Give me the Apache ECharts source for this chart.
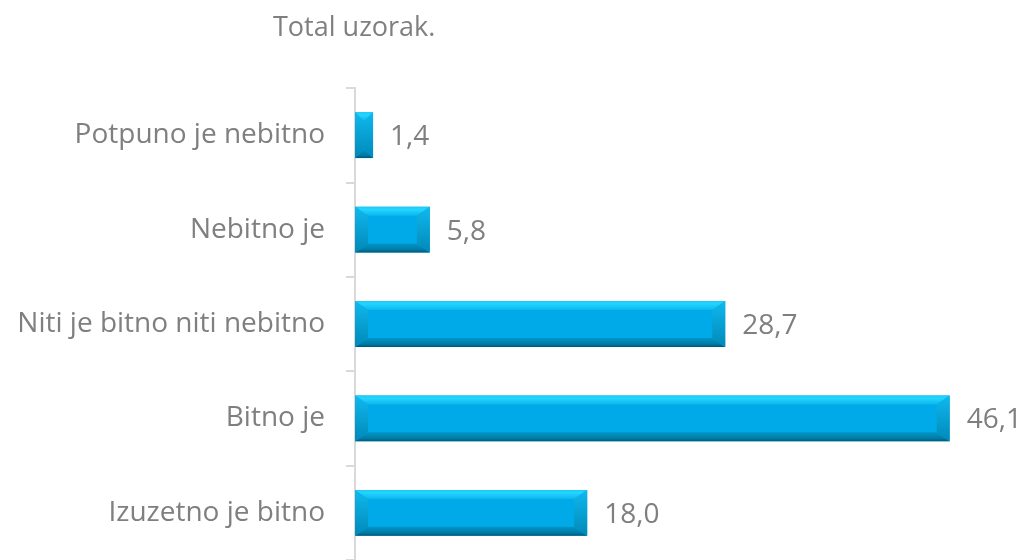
<!DOCTYPE html>
<html><head><meta charset="utf-8">
<script src="https://cdn.jsdelivr.net/npm/echarts@6/dist/echarts.min.js"></script>
<style>html,body{margin:0;padding:0;background:#fff}#c{width:1024px;height:560px}</style>
</head><body><div id="c"></div>
<script>
var categories = ["Izuzetno je bitno", "Bitno je", "Niti je bitno niti nebitno", "Nebitno je", "Potpuno je nebitno"];
var values = [18.0, 46.1, 28.7, 5.8, 1.4];
var titleText = "Total uzorak.";

var chart = echarts.init(document.getElementById('c'));
var FONT = '"Open Sans", sans-serif';

function renderBar(params, api) {
  var cat = api.value(0), val = api.value(1);
  var p0 = api.coord([0, cat]);
  var p1 = api.coord([val, cat]);
  var band = api.size([0, 1])[1];
  var h = band * 0.485;
  var x0 = p0[0], x1 = p1[0], yc = p0[1];
  var y0 = yc - h / 2, y1 = yc + h / 2;
  var w = x1 - x0;
  var bx = Math.min(13, w / 2), by = Math.min(9, h / 2);
  var ix0 = x0 + bx, ix1 = x1 - bx, iy0 = y0 + by, iy1 = y1 - by;
  var label = val.toFixed(1).replace('.', ',');
  return {
    type: 'group',
    children: [
      {type: 'rect', shape: {x: x0, y: y0, width: w, height: h}, style: {fill: '#00aae8'}},
      {type: 'polygon', shape: {points: [[x0, y0], [x1, y0], [ix1, iy0], [ix0, iy0]]},
        style: {fill: new echarts.graphic.LinearGradient(0, 0, 0, 1, [{offset: 0, color: '#1ec8f2'}, {offset: 0.3, color: '#22d6ff'}, {offset: 1, color: '#0cb6ee'}])}},
      {type: 'polygon', shape: {points: [[x0, y1], [x1, y1], [ix1, iy1], [ix0, iy1]]},
        style: {fill: new echarts.graphic.LinearGradient(0, 0, 0, 1, [{offset: 0, color: '#0096c8'}, {offset: 0.7, color: '#007aa4'}, {offset: 1, color: '#005776'}])}},
      {type: 'polygon', shape: {points: [[x0, y0], [ix0, iy0], [ix0, iy1], [x0, y1]]},
        style: {fill: new echarts.graphic.LinearGradient(0, 0, 0, 1, [{offset: 0, color: '#10b8ee'}, {offset: 1, color: '#0089b8'}])}},
      {type: 'polygon', shape: {points: [[x1, y0], [ix1, iy0], [ix1, iy1], [x1, y1]]},
        style: {fill: new echarts.graphic.LinearGradient(0, 0, 0, 1, [{offset: 0, color: '#10b8ee'}, {offset: 1, color: '#0089b8'}])}},
      {type: 'text', style: {text: label, x: x1 + 17, y: yc + 2, verticalAlign: 'middle', align: 'left',
        fill: '#7f7f7f', font: '28px ' + FONT}}
    ]
  };
}

var data = values.map(function (v, i) { return [i, v]; });

chart.setOption({
  animation: false,
  backgroundColor: '#fff',
  title: {text: titleText, left: 268, top: 10,
    textStyle: {color: '#7f7f7f', fontSize: 27, fontWeight: 'normal', fontFamily: FONT}},
  grid: {left: 355, right: 24, top: 88, bottom: -5},
  xAxis: {type: 'value', min: 0, max: 50, show: false},
  yAxis: {type: 'category', data: categories,
    axisLine: {show: true, lineStyle: {color: '#d9d9d9', width: 2}},
    axisTick: {show: true, length: 9, lineStyle: {color: '#d9d9d9', width: 2}},
    axisLabel: {color: '#7f7f7f', fontSize: 28, fontFamily: FONT, margin: 30, padding: [4, 0, 0, 0]},
    splitLine: {show: false}},
  series: [{type: 'custom', renderItem: renderBar, data: data, encode: {x: 1, y: 0}, clip: false}]
});
</script></body></html>
